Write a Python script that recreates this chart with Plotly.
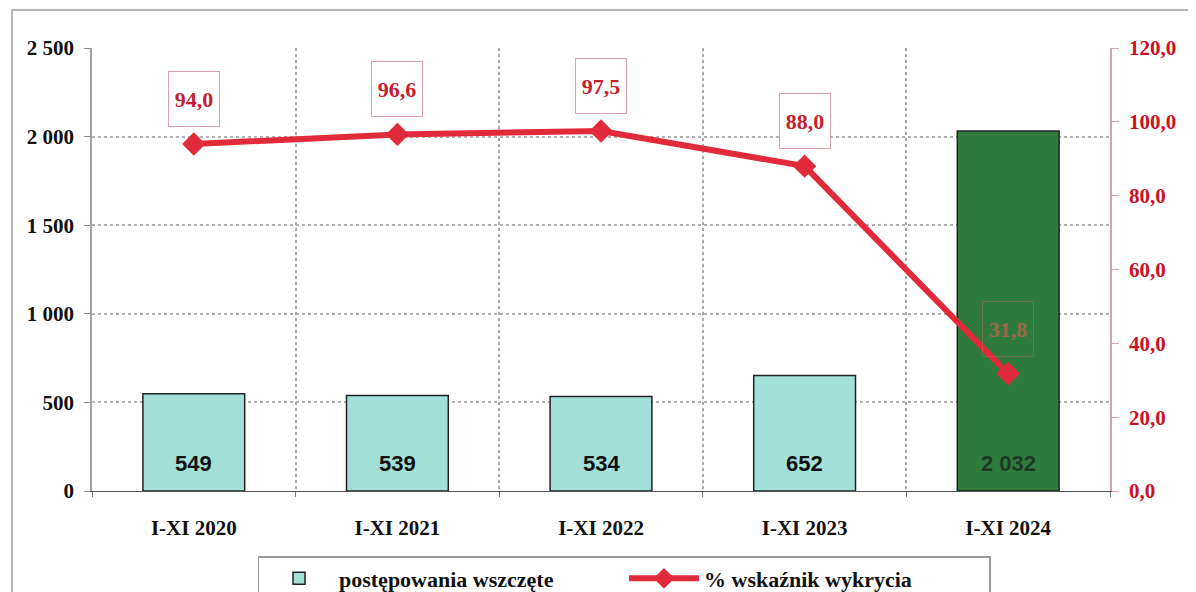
import plotly.graph_objects as go

categories = ["I-XI 2020", "I-XI 2021", "I-XI 2022", "I-XI 2023", "I-XI 2024"]
cases = [549, 539, 534, 652, 2032]
detection = [94.0, 96.6, 97.5, 88.0, 31.8]

bar_name = "postępowania wszczęte"
line_name = "% wskaźnik wykrycia"

x_idx = list(range(len(categories)))

def fmt_int(v):
    return f"{v:,}".replace(",", " ")

def fmt_pct(v):
    return f"{v:.1f}".replace(".", ",")

bar_colors = ["#a3e0d8"] * 4 + ["#2f7b3d"]
bar_text_colors = ["#111111"] * 4 + ["#1e3a25"]

fig = go.Figure()
fig.add_trace(go.Bar(
    x=x_idx, y=cases, name=bar_name,
    width=0.5,
    marker=dict(color=bar_colors, line=dict(color="#222222", width=1.5)),
    textposition="none",
))
fig.add_trace(go.Scatter(
    x=x_idx, y=detection, name=line_name, yaxis="y2",
    mode="lines+markers",
    line=dict(color="#e22b3a", width=6),
    marker=dict(symbol="diamond", size=18, color="#e22b3a"),
))

# bar value labels near the bar base
for i, v in enumerate(cases):
    fig.add_annotation(
        x=x_idx[i], y=0, xref="x", yref="y",
        text=fmt_int(v), showarrow=False, yanchor="middle", yshift=28,
        font=dict(family="Liberation Sans", size=22, weight="bold",
                  color=bar_text_colors[i]),
    )

# line value labels in boxes
for i, v in enumerate(detection):
    faint = i == len(detection) - 1
    fig.add_annotation(
        x=x_idx[i], y=v, xref="x", yref="y2",
        text=fmt_pct(v), showarrow=False, yshift=45,
        width=48, height=52,
        bordercolor="rgba(215,150,160,0.9)" if not faint else "rgba(190,110,90,0.45)",
        borderwidth=1,
        bgcolor="rgba(255,255,255,1)" if not faint else "rgba(0,0,0,0)",
        font=dict(family="Liberation Serif", size=22, weight="bold",
                  color="#c8202e" if not faint else "rgba(205,95,80,0.7)"),
    )

FW, FH = 1188, 584
L, R, T, B = 84, 1102, 40, 483
W, H = R - L, B - T

# outer chart frame
fig.add_shape(type="rect", xref="paper", yref="paper",
              x0=(4 - L) / W, x1=(1230 - L) / W,
              y0=(B - 640) / H, y1=(B - 2) / H,
              line=dict(color="#b5b5b5", width=2), layer="below")

fig.update_layout(
    width=FW, height=FH,
    margin=dict(l=L, r=FW - R, t=T, b=FH - B, autoexpand=False),
    paper_bgcolor="white", plot_bgcolor="white",
    separators=", ",
    showlegend=True,
    legend=dict(
        orientation="h", x=(616 - L) / W, xanchor="center",
        y=(B - 548) / H, yanchor="top",
        bordercolor="#9a9a9a", borderwidth=1.5,
        font=dict(family="Liberation Serif", size=22, color="#111111", weight="bold"),
        entrywidth=280, itemwidth=70, traceorder="normal",
    ),
    xaxis=dict(
        range=[-0.5, 4.5], tickmode="array", tickvals=x_idx, ticktext=categories,
        showgrid=False, zeroline=False, ticks="", automargin=False,
        showline=True, linecolor="#555555", linewidth=1.2,
        tickfont=dict(family="Liberation Serif", size=21, color="#111111", weight="bold"),
        ticklabelstandoff=18,
        minor=dict(tick0=0.5, dtick=1, showgrid=True, griddash="dot",
                   gridcolor="#a8a8a8", gridwidth=1.5, ticks="outside", ticklen=5,
                   tickcolor="#777777"),
    ),
    yaxis=dict(
        range=[0, 2500], tickvals=[0, 500, 1000, 1500, 2000, 2500], tickformat=",d",
        showgrid=True, griddash="dot", gridcolor="#b0b0b0", gridwidth=1.5,
        zeroline=False, showline=True, linecolor="#a0a0a0", linewidth=1.5,
        ticks="outside", ticklen=6, tickcolor="#888888", automargin=False,
        tickfont=dict(family="Liberation Serif", size=21, color="#111111", weight="bold"),
        ticklabelstandoff=6,
    ),
    yaxis2=dict(
        range=[0, 120], tickvals=[0, 20, 40, 60, 80, 100, 120], tickformat=".1f",
        overlaying="y", side="right", anchor="x", automargin=False,
        showgrid=False, zeroline=False, showline=True, linecolor="#d7a0b0", linewidth=1.5,
        ticks="outside", ticklen=7, tickcolor="#d7a0b0",
        tickfont=dict(family="Liberation Serif", size=21, color="#d0101e", weight="bold"),
        ticklabelstandoff=6,
    ),
)

fig.write_html("out.html")
